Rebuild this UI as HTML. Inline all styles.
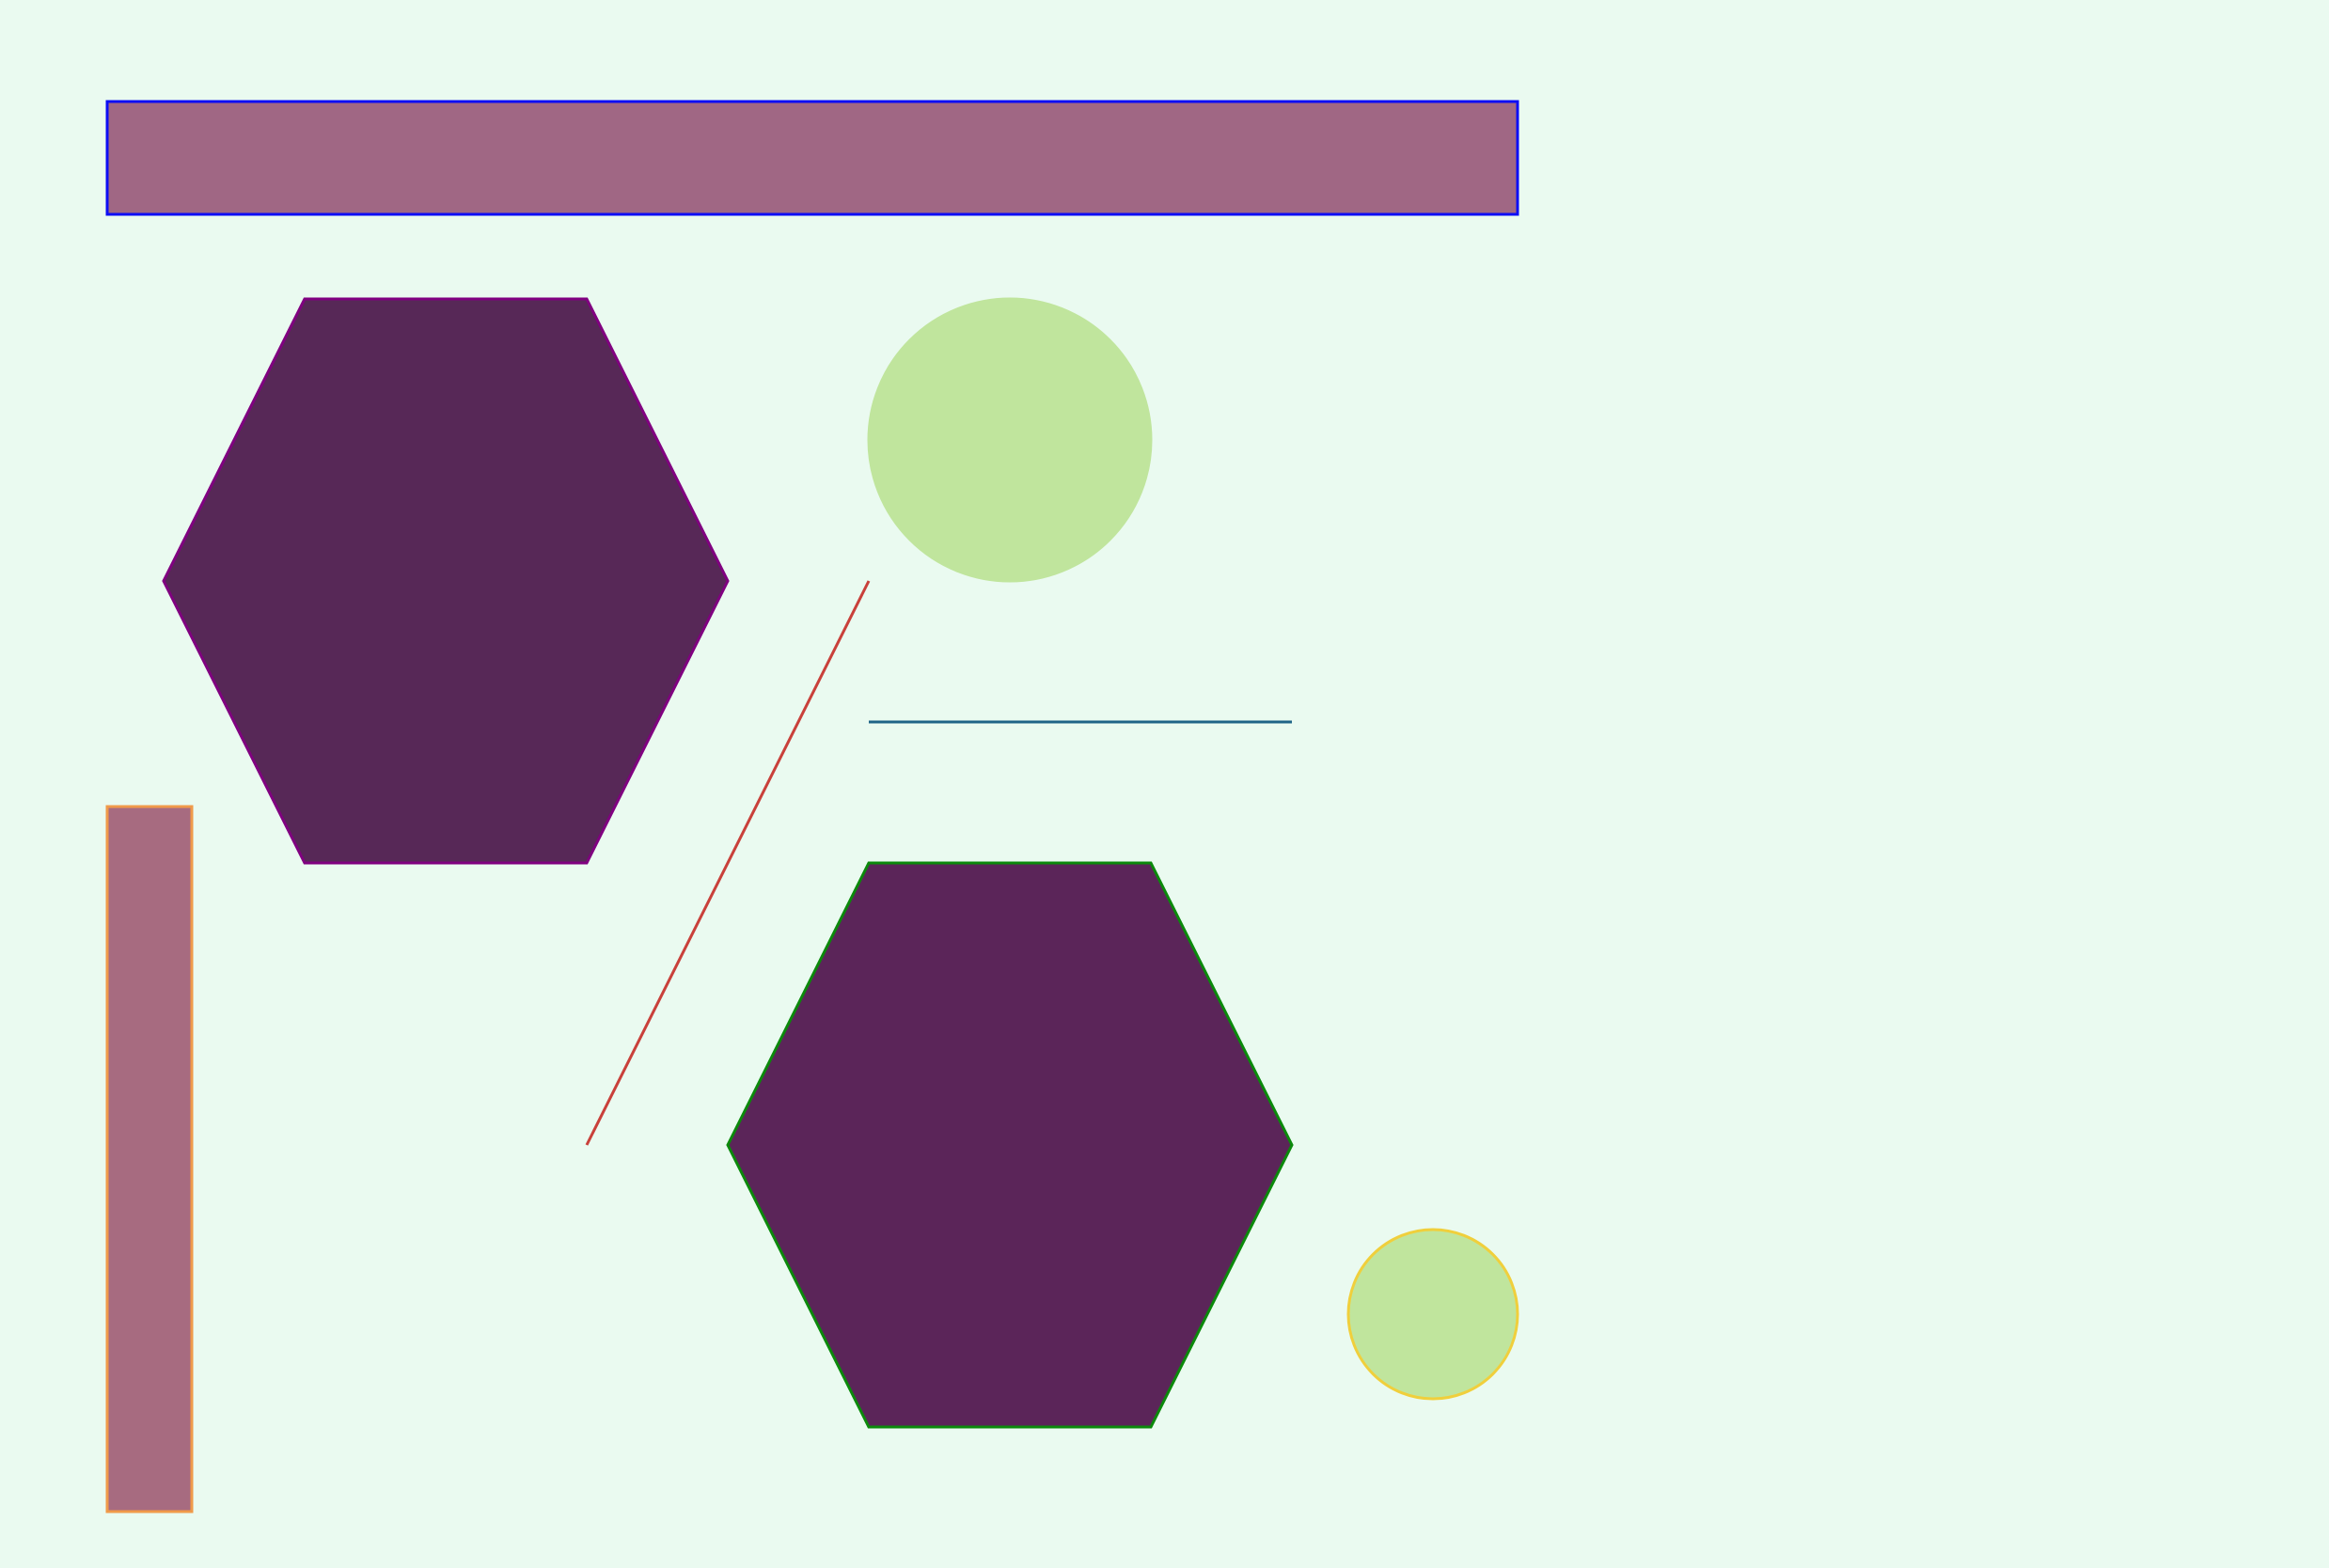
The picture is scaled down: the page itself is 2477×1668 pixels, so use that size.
<!DOCTYPE html>
<html lang="en">
<head>
<meta charset="utf-8">
<title>Geometric shapes</title>
<style>
html,body{margin:0;padding:0;background:#eafaf0;}
svg{display:block;}
</style>
</head>
<body>
<svg xmlns="http://www.w3.org/2000/svg" width="2477" height="1668" viewBox="0 0 2477 1668">
  <rect x="0" y="0" width="2477" height="1668" fill="#eafaf0"/>
  <rect x="114" y="108" width="1500" height="120" fill="#a06784" stroke="#0d0df5" stroke-width="3"/>
  <polygon points="324,318 624,318 774,618 624,918 324,918 174,618" fill="#572857" stroke="#800080" stroke-width="3"/>
  <circle cx="1074" cy="468" r="150" fill="#c0e59d" stroke="#c0e59d" stroke-width="3"/>
  <line x1="924" y1="618" x2="624" y2="1218" stroke="#c9403a" stroke-width="3"/>
  <line x1="924" y1="768" x2="1374" y2="768" stroke="#1f6487" stroke-width="3"/>
  <polygon points="924,918 1224,918 1374,1218 1224,1518 924,1518 774,1218" fill="#5b2559" stroke="#0b8a0b" stroke-width="3"/>
  <circle cx="1524" cy="1398" r="90" fill="#c0e59d" stroke="#f0cf3c" stroke-width="3"/>
  <rect x="114" y="858" width="90" height="750" fill="#a76b80" stroke="#f09a4a" stroke-width="3"/>
</svg>
</body>
</html>
